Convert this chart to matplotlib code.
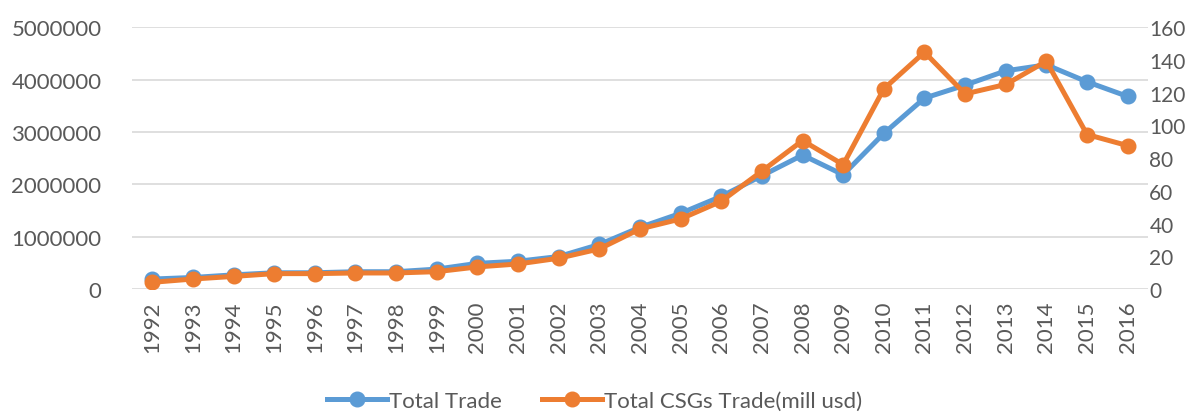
import numpy as np
import matplotlib.pyplot as plt

plt.rcParams['font.family'] = ['Lato', 'DejaVu Sans']

##################
## Data
##################
years = [str(y) for y in range(1992, 2017)]
total_trade = [190000, 220000, 270000, 310000, 310000, 330000, 330000, 380000,
               490000, 530000, 620000, 850000, 1177000, 1445000, 1769000,
               2163000, 2557000, 2182000, 2971000, 3645000, 3893000, 4166000,
               4281000, 3957000, 3677000]
csgs_trade = [4.1, 6.1, 7.7, 9.4, 9.4, 9.8, 9.8, 10.6, 13.5, 15.3, 18.8, 24.5,
              36.7, 42.8, 53.6, 72.0, 90.7, 76.0, 122.3, 144.7, 119.2, 125.0,
              139.2, 94.4, 87.6]

blue = '#5B9BD5'
orange = '#ED7D31'
txt = '#595959'

##################
## Plot
##################
fig = plt.figure(figsize=(11.89, 4.14), dpi=100)
ax = fig.add_axes([0.111, 0.2995, 0.8545, 0.6325])
ax2 = ax.twinx()

x = np.arange(len(years))
l1, = ax.plot(x, total_trade, color=blue, lw=3.6, marker='o', ms=10.5, label='Total Trade')
l2, = ax2.plot(x, csgs_trade, color=orange, lw=3.6, marker='o', ms=10.5,
               label='Total CSGs Trade(mill usd)')

ax.set_ylim(0, 5000000)
ax.set_yticks(np.arange(0, 5000001, 1000000))
ax.set_yticklabels([str(v) for v in range(0, 5000001, 1000000)])
ax2.set_ylim(0, 160)
ax2.set_yticks(np.arange(0, 161, 20))
ax.set_xlim(-0.5, len(years) - 0.5)
ax.set_xticks(x)
ax.set_xticklabels(years, rotation=90)

ax.grid(axis='y', color='#D9D9D9', lw=1.2)
ax.set_axisbelow(True)
for a in (ax, ax2):
    for s in a.spines.values():
        s.set_visible(False)
    a.tick_params(length=0, labelsize=16, colors=txt)
ax.tick_params(axis='y', pad=22)
ax.tick_params(axis='x', pad=8)
ax2.tick_params(axis='y', pad=1, labelsize=15)

fig.legend(handles=[l1, l2], loc='center', bbox_to_anchor=(0.5, 0.03), ncol=2,
           frameon=False, fontsize=16, handlelength=2.7, columnspacing=1.8,
           handletextpad=0.1, labelcolor=txt)

fig.savefig('out.png', dpi=100)
